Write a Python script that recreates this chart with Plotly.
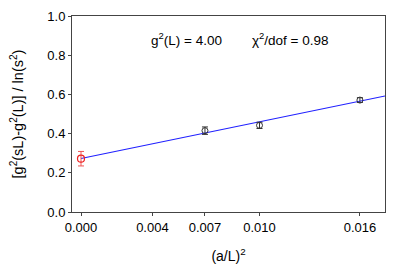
import plotly.graph_objects as go

# Data
x_data = [1/144, 1/100, 1/64]
y_data = [0.415, 0.442, 0.571]
y_err = [0.019, 0.016, 0.012]

x_extrap = [0.0]
y_extrap = [0.272]
y_extrap_err = [0.037]

fit_x = [0.0, 0.01703]
fit_y = [0.273, 0.592]

xtick_vals = [0.0, 0.004, 1/144, 0.01, 1/64]
xtick_text = ["0.000", "0.004", "0.007", "0.010", "0.016"]
ytick_vals = [0.0, 0.2, 0.4, 0.6, 0.8, 1.0]
ytick_text = ["0.0", "0.2", "0.4", "0.6", "0.8", "1.0"]

font_family = "Liberation Sans, Arial, sans-serif"

fig = go.Figure()
fig.add_trace(go.Scatter(x=fit_x, y=fit_y, mode="lines",
                         line=dict(color="#2020ff", width=1.2), showlegend=False))
fig.add_trace(go.Scatter(x=x_data, y=y_data, mode="markers",
                         marker=dict(symbol="circle-open", size=6, color="#333333",
                                     line=dict(width=1, color="#333333")),
                         error_y=dict(type="data", array=y_err, color="#333333",
                                      thickness=1, width=3),
                         showlegend=False))
fig.add_trace(go.Scatter(x=x_extrap, y=y_extrap, mode="markers",
                         marker=dict(symbol="circle-open", size=7, color="#ee2222",
                                     line=dict(width=1.2, color="#ee2222")),
                         error_y=dict(type="data", array=y_extrap_err, color="#ee5555",
                                      thickness=1, width=3),
                         showlegend=False))

fig.update_layout(
    width=401, height=265,
    margin=dict(l=64, r=24, t=8, b=61),
    paper_bgcolor="white", plot_bgcolor="white",
    font=dict(family=font_family, size=13, color="black"),
    xaxis=dict(range=[-0.000504, 0.01703], tickvals=xtick_vals, ticktext=xtick_text,
               showgrid=False, zeroline=False, showline=True, linecolor="#444444",
               linewidth=1, mirror=True, ticks="outside", ticklen=3, tickcolor="#444444",
               automargin=False,
               title=dict(text="(a/L)<sup>2</sup>", font=dict(size=14), standoff=17)),
    yaxis=dict(range=[0, 1], tickvals=ytick_vals, ticktext=ytick_text,
               showgrid=False, zeroline=False, showline=True, linecolor="#444444",
               linewidth=1, mirror=True, ticks="outside", ticklen=3, tickcolor="#444444",
               automargin=False,
               title=dict(text="[g<sup>2</sup>(sL)-g<sup>2</sup>(L)] / ln(s<sup>2</sup>)",
                          font=dict(size=14.5), standoff=25)),
    annotations=[
        dict(x=0.0059, y=0.885, xref="x", yref="y", text="g<sup>2</sup>(L) = 4.00",
             showarrow=False, font=dict(size=13.5)),
        dict(x=0.01175, y=0.885, xref="x", yref="y", text="χ<sup>2</sup>/dof = 0.98",
             showarrow=False, font=dict(size=13.5)),
    ],
)

fig.write_html("out.html")
